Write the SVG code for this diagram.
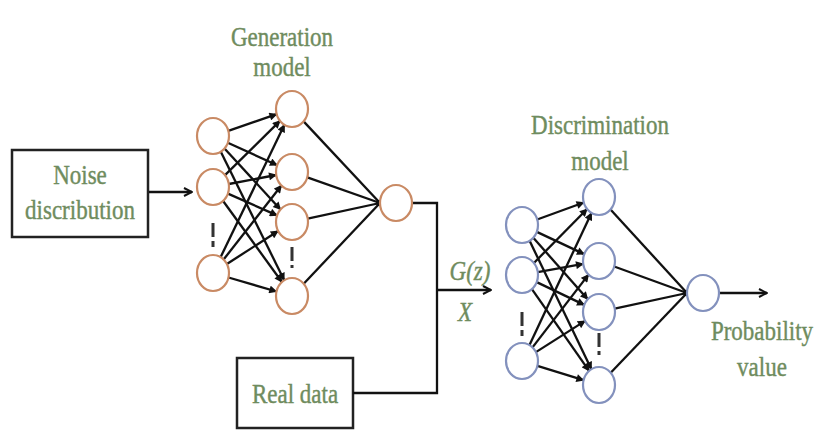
<svg xmlns="http://www.w3.org/2000/svg" width="819" height="433" viewBox="0 0 819 433">
  <defs>
    <marker id="tip" viewBox="0 0 10 10" refX="9" refY="5" markerWidth="9" markerHeight="8" markerUnits="userSpaceOnUse" orient="auto">
      <path d="M0,0 L10,5 L0,10 Z" fill="#111"/>
    </marker>
    <marker id="open" viewBox="0 0 10 10" refX="9" refY="5" markerWidth="10" markerHeight="10" markerUnits="userSpaceOnUse" orient="auto">
      <path d="M1,1 L9,5 L1,9" fill="none" stroke="#111" stroke-width="2"/>
    </marker>
    <style>
      .lbl { font-family: "Liberation Serif", "Times New Roman", serif; font-size: 23px; fill: #6f8c5e; stroke: #6f8c5e; stroke-width: 0.35; text-anchor: middle; }
      .ital { font-style: italic; }
      .box { fill: #ffffff; stroke: #222; stroke-width: 2.5; }
      .gen { fill: #ffffff; stroke: #c98a64; stroke-width: 2.2; }
      .dis { fill: #ffffff; stroke: #8391bd; stroke-width: 2.2; }
      .edge { stroke: #111; stroke-width: 2.3; fill: none; marker-end: url(#tip); }
      .plain { stroke: #111; stroke-width: 2.3; fill: none; }
      .flow { stroke: #111; stroke-width: 2.3; fill: none; marker-end: url(#open); }
      .dash { stroke: #333; stroke-width: 3; stroke-dasharray: 14 4 6 40; }
    </style>
  </defs>

  <rect width="819" height="433" fill="#ffffff"/>

  <!-- labels (type is set slightly tall) -->
  <g id="generation-label">
    <text class="lbl" transform="translate(282,46) scale(1,1.2)">Generation</text>
    <text class="lbl" transform="translate(282,76) scale(1,1.2)">model</text>
  </g>
  <g id="discrimination-label">
    <text class="lbl" transform="translate(600,134) scale(1,1.2)">Discrimination</text>
    <text class="lbl" transform="translate(600,170) scale(1,1.2)">model</text>
  </g>

  <!-- boxes -->
  <g id="noise">
    <rect class="box" x="12" y="150" width="136" height="87"/>
    <text class="lbl" transform="translate(80,184) scale(1,1.2)">Noise</text>
    <text class="lbl" transform="translate(80,219) scale(1,1.2)">discribution</text>
  </g>
  <g id="real-data">
    <rect class="box" x="237" y="358" width="116" height="70"/>
    <text class="lbl" transform="translate(295,403) scale(1,1.2)">Real data</text>
  </g>

  <g id="connectors">
    <!-- noise into generator -->
    <line class="flow" x1="149" y1="192" x2="192" y2="192"/>

    <!-- generator: input layer to hidden layer -->
    <line class="edge" x1="228.3" y1="130.8" x2="276.7" y2="114.2"/>
    <line class="edge" x1="227.8" y1="142.8" x2="277.2" y2="165.2"/>
    <line class="edge" x1="224.5" y1="148.5" x2="280.5" y2="209.5"/>
    <line class="edge" x1="220.8" y1="151.7" x2="284.2" y2="280.3"/>
    <line class="edge" x1="225" y1="175.1" x2="280" y2="120.9"/>
    <line class="edge" x1="228.8" y1="184" x2="276.2" y2="175"/>
    <line class="edge" x1="227.9" y1="193.6" x2="277.1" y2="215.4"/>
    <line class="edge" x1="223.1" y1="201" x2="281.9" y2="282"/>
    <line class="edge" x1="220.6" y1="257.2" x2="284.4" y2="124.8"/>
    <line class="edge" x1="223.6" y1="259.5" x2="281.4" y2="185.5"/>
    <line class="edge" x1="226.9" y1="264" x2="278.1" y2="231"/>
    <line class="edge" x1="228.5" y1="277.5" x2="276.5" y2="291.5"/>

    <!-- generator: hidden layer to output -->
    <line class="plain" x1="303.6" y1="121.4" x2="380" y2="203"/>
    <line class="plain" x1="307.3" y1="177.4" x2="380" y2="203"/>
    <line class="plain" x1="307.7" y1="218.6" x2="380" y2="203"/>
    <line class="plain" x1="303.7" y1="283.7" x2="380" y2="203"/>
    <circle cx="379" cy="203" r="3" fill="#111"/>

    <!-- G(z) and real data merge into discriminator -->
    <path class="plain" d="M412,203 H437 V393 H353"/>
    <line class="flow" x1="437" y1="290" x2="491" y2="290"/>

    <!-- discriminator: input layer to hidden layer -->
    <line class="edge" x1="537.2" y1="219.5" x2="583.8" y2="202.5"/>
    <line class="edge" x1="536.8" y1="231.9" x2="584.2" y2="254.1"/>
    <line class="edge" x1="533.3" y1="237.8" x2="587.7" y2="299.2"/>
    <line class="edge" x1="529.6" y1="240.8" x2="591.4" y2="369.2"/>
    <line class="edge" x1="533.9" y1="263" x2="587.1" y2="209"/>
    <line class="edge" x1="537.8" y1="272.1" x2="583.2" y2="263.9"/>
    <line class="edge" x1="536.7" y1="282.1" x2="584.3" y2="304.9"/>
    <line class="edge" x1="531.9" y1="289.1" x2="589.1" y2="370.9"/>
    <line class="edge" x1="529.5" y1="345.1" x2="591.5" y2="212.9"/>
    <line class="edge" x1="532.5" y1="347.4" x2="588.5" y2="274.6"/>
    <line class="edge" x1="535.9" y1="352.1" x2="585.1" y2="320.9"/>
    <line class="edge" x1="537.4" y1="365.8" x2="583.6" y2="380.2"/>

    <!-- discriminator: hidden layer to output -->
    <line class="plain" x1="610.5" y1="209.5" x2="687" y2="293"/>
    <line class="plain" x1="614.2" y1="266.5" x2="687" y2="293"/>
    <line class="plain" x1="614.7" y1="308.6" x2="687" y2="293"/>
    <line class="plain" x1="610.7" y1="372.7" x2="687" y2="293"/>
    <circle cx="686" cy="293" r="3" fill="#111"/>

    <!-- probability out -->
    <line class="flow" x1="719" y1="293" x2="767" y2="293"/>

    <!-- ellipsis marks between neurons -->
    <line class="dash" x1="213" y1="223" x2="213" y2="250"/>
    <line class="dash" x1="292" y1="247" x2="292" y2="268"/>
    <line class="dash" x1="522" y1="312" x2="522" y2="340"/>
    <line class="dash" x1="599" y1="333" x2="599" y2="355"/>
  </g>

  <!-- generator neurons -->
  <g id="gen-in-1"><ellipse class="gen" cx="213" cy="136" rx="16" ry="18"/></g>
  <g id="gen-in-2"><ellipse class="gen" cx="213" cy="187" rx="16" ry="18"/></g>
  <g id="gen-in-3"><ellipse class="gen" cx="213" cy="273" rx="16" ry="18"/></g>
  <g id="gen-hid-1"><ellipse class="gen" cx="292" cy="109" rx="16" ry="18"/></g>
  <g id="gen-hid-2"><ellipse class="gen" cx="292" cy="172" rx="16" ry="18"/></g>
  <g id="gen-hid-3"><ellipse class="gen" cx="292" cy="222" rx="16" ry="18"/></g>
  <g id="gen-hid-4"><ellipse class="gen" cx="292" cy="296" rx="16" ry="18"/></g>
  <g id="gen-out"><ellipse class="gen" cx="396" cy="203" rx="16" ry="18"/></g>

  <!-- discriminator neurons -->
  <g id="dis-in-1"><ellipse class="dis" cx="522" cy="225" rx="16" ry="18"/></g>
  <g id="dis-in-2"><ellipse class="dis" cx="522" cy="275" rx="16" ry="18"/></g>
  <g id="dis-in-3"><ellipse class="dis" cx="522" cy="361" rx="16" ry="18"/></g>
  <g id="dis-hid-1"><ellipse class="dis" cx="599" cy="197" rx="16" ry="18"/></g>
  <g id="dis-hid-2"><ellipse class="dis" cx="599" cy="261" rx="16" ry="18"/></g>
  <g id="dis-hid-3"><ellipse class="dis" cx="599" cy="312" rx="16" ry="18"/></g>
  <g id="dis-hid-4"><ellipse class="dis" cx="599" cy="385" rx="16" ry="18"/></g>
  <g id="dis-out"><ellipse class="dis" cx="703" cy="293" rx="16" ry="18"/></g>

  <!-- signal labels -->
  <g id="gz-label">
    <text class="lbl ital" transform="translate(470,280) scale(1,1.2)">G(z)</text>
    <text class="lbl ital" transform="translate(465,321) scale(1,1.2)">X</text>
  </g>
  <g id="probability">
    <text class="lbl" transform="translate(762,340) scale(1,1.2)">Probability</text>
    <text class="lbl" transform="translate(762,376) scale(1,1.2)">value</text>
  </g>
</svg>
